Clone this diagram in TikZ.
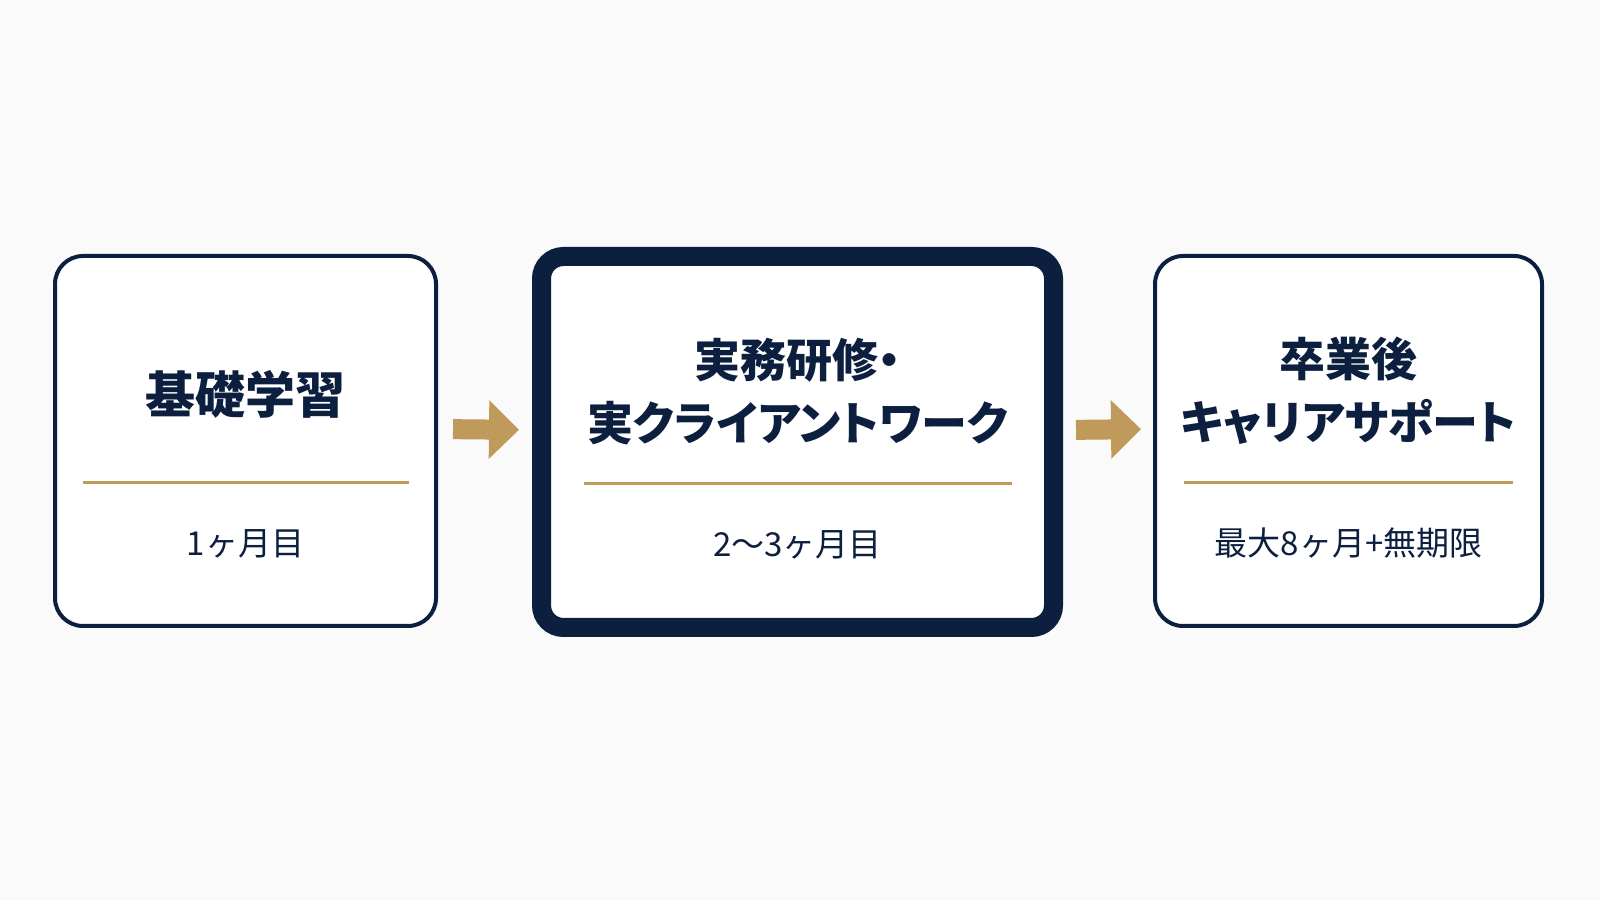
\documentclass[tikz,border=0pt]{standalone}
\usepackage{fontspec}
\setmainfont{Noto Sans CJK JP}
\newfontfamily\jptitle[RawFeature=+palt]{Noto Sans CJK JP}
\usetikzlibrary{arrows.meta,positioning}
\definecolor{navy}{HTML}{0D1F3F}
\definecolor{gold}{HTML}{C09A5B}
\definecolor{paper}{HTML}{FAFAFA}
\tikzset{
  stage/.style={draw=navy,fill=white,line width=2pt,rounded corners=14pt,minimum height=185pt,inner sep=0pt},
  title/.style={text=navy,font=\jptitle\bfseries\fontsize{23pt}{31.5pt}\selectfont,align=center,anchor=base,inner sep=0pt},
  period/.style={text=navy,font=\fontsize{16.5pt}{20pt}\selectfont,anchor=base,inner sep=0pt},
  rule/.style={draw=gold,line width=1.5pt},
  go/.style={draw=gold,line width=10pt,-{Triangle[length=15pt,width=28.5pt]}}
}
\begin{document}
\begin{tikzpicture}[x=0.5pt,y=0.5pt]
        \fill[paper] (0,0) rectangle (1600,900);
        \useasboundingbox (0,0) rectangle (1600,900);
        \begin{scope}
            \node [stage,minimum width=190.5pt](A) at (245.5,459) {};
            \node [stage,minimum width=256pt,minimum height=185.5pt,line width=9.5pt,rounded corners=11pt](B) at (797.5,458) {};
            \node [stage,minimum width=193.5pt](C) at (1348.5,459) {};
        \end{scope}
        % titles
        \node [title,font=\jptitle\bfseries\fontsize{25pt}{31pt}\selectfont](At) at ([yshift=13.75pt]A.center) {基礎学習};
        \node [title](Bt) at ([yshift=0.5pt]B.center) {実務研修・\\実クライアントワーク};
        \node [title](Ct) at ([yshift=0.5pt]C.center) {卒業後\\キャリアサポート};
        % gold rules
        \draw [rule]([xshift=-81.5pt,yshift=-21pt]A.center) -- ([xshift=81.5pt,yshift=-21pt]A.center);
        \draw [rule]([xshift=-107pt,yshift=-21pt]B.center) -- ([xshift=107pt,yshift=-21pt]B.center);
        \draw [rule]([xshift=-82.25pt,yshift=-21pt]C.center) -- ([xshift=82.25pt,yshift=-21pt]C.center);
        % periods
        \node [period](Ap) at ([yshift=-57.3pt]A.center) {1ヶ月目};
        \node [period](Bp) at ([yshift=-57.3pt]B.center) {2〜3ヶ月目};
        \node [period](Cp) at ([yshift=-57.3pt]C.center) {最大8ヶ月+無期限};
        \draw [go,shorten <=7.5pt,shorten >=6.5pt]([yshift=6pt]A.east) -- ([yshift=6pt]B.west);
        \draw [go,shorten <=6.5pt,shorten >=6pt]([yshift=6pt]B.east) -- ([yshift=6pt]C.west);
\end{tikzpicture}
\end{document}
